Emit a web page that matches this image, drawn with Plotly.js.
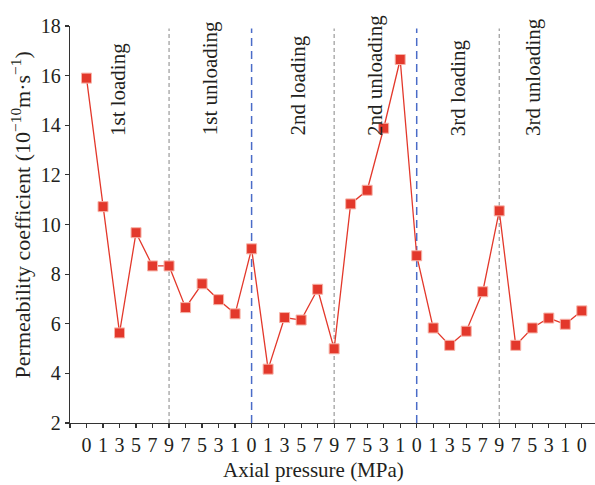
<!DOCTYPE html>
<html>
<head>
<meta charset="utf-8">
<script src="https://cdn.plot.ly/plotly-3.0.1.min.js"></script>
<style>html,body{margin:0;padding:0;background:#fff;}#chart{width:595px;height:485px;}</style>
</head>
<body>
<div id="chart"></div>
<script>
// Axial pressure labels (MPa) for each measurement step
const pressureLabels = ["0","1","3","5","7","9","7","5","3","1","0","1","3","5","7","9","7","5","3","1","0","1","3","5","7","9","7","5","3","1","0"];
// Permeability coefficient (10^-10 m·s^-1)
const permeability = [15.9,10.72,5.63,9.67,8.33,8.33,6.65,7.61,6.97,6.4,9.02,4.17,6.25,6.15,7.39,4.99,10.83,11.38,13.88,16.65,8.74,5.83,5.13,5.7,7.29,10.55,5.13,5.83,6.23,5.98,6.52];
// Stage labels and their positions (step index)
const stageNames = ["1st loading","1st unloading","2nd loading","2nd unloading","3rd loading","3rd unloading"];
const stagePos = [1.9,7.45,12.8,17.47,22.5,27.0];
// Boundaries between stages (step index) and their style kind
const boundaryPos = [5,10,15,20,25];
const boundaryKind = ["gray","blue","gray","blue","gray"];
// Axis titles
const xTitle = 'Axial pressure (MPa)';
const yTitle = 'Permeability coefficient (10<sup>−10</sup>m·s<sup>−1</sup>)';

const idx = pressureLabels.map((_, i) => i);
const font = "'Liberation Serif', 'DejaVu Serif', serif";
const txt = '#231f20';

const trace = {
  x: idx,
  y: permeability,
  type: 'scatter',
  mode: 'lines+markers',
  line: {color: '#e3382b', width: 1.3},
  marker: {symbol: 'square', size: 10, color: '#e3382b', line: {color: '#f7b3a8', width: 1}},
  hoverinfo: 'none'
};

const shapes = boundaryPos.map((p, i) => ({
  type: 'line', xref: 'x', yref: 'y', x0: p, x1: p, y0: 2, y1: 17.9,
  line: boundaryKind[i] === 'blue'
    ? {color: '#4a6cc8', width: 1.5, dash: '8px,5px'}
    : {color: '#9a9a9a', width: 1.2, dash: '4px,3px'},
  layer: 'below'
}));

const annotations = stageNames.map((t, i) => ({
  text: t, x: stagePos[i], y: 13.5, xref: 'x', yref: 'y',
  textangle: -90, showarrow: false, xanchor: 'center', yanchor: 'bottom',
  font: {family: font, size: 21, color: txt}
}));
annotations.push({
  text: xTitle, xref: 'paper', yref: 'paper', x: 0.463, y: -0.119,
  xanchor: 'center', yanchor: 'middle', showarrow: false,
  font: {family: font, size: 21, color: txt}
});
annotations.push({
  text: yTitle, xref: 'paper', yref: 'paper', x: -0.0933, y: 0.523,
  xanchor: 'center', yanchor: 'middle', textangle: -90, showarrow: false,
  font: {family: font, size: 22, color: txt}
});

const layout = {
  width: 595, height: 485,
  margin: {l: 70, r: 0, t: 26, b: 62.3},
  paper_bgcolor: '#fff', plot_bgcolor: '#fff',
  showlegend: false,
  font: {family: font, size: 20, color: txt},
  xaxis: {
    range: [-1, 30.8],
    tickvals: [-1].concat(idx),
    ticktext: [''].concat(pressureLabels),
    ticks: 'outside', ticklen: 4, tickwidth: 1.2, tickcolor: '#333',
    showline: true, linecolor: '#333', linewidth: 1.3,
    showgrid: false, zeroline: false,
    tickfont: {family: font, size: 20, color: txt}
  },
  yaxis: {
    range: [2, 18],
    tickvals: [2,4,6,8,10,12,14,16,18],
    ticks: 'outside', ticklen: 4, tickwidth: 1.2, tickcolor: '#333',
    showline: true, linecolor: '#333', linewidth: 1.3,
    showgrid: false, zeroline: false,
    tickfont: {family: font, size: 20, color: txt}
  },
  shapes: shapes,
  annotations: annotations
};

Plotly.newPlot('chart', [trace], layout, {displayModeBar: false, staticPlot: true});
</script>
</body>
</html>
